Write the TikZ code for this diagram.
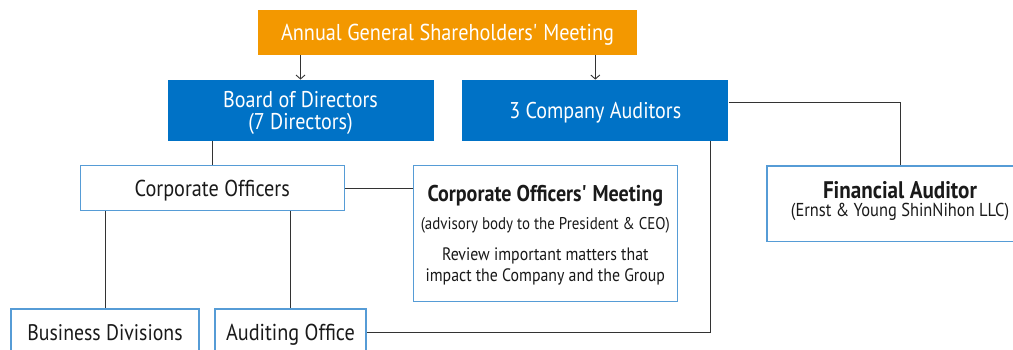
\documentclass[tikz,border=0pt]{standalone}
\usepackage{fontspec}
\setmainfont[FakeStretch=0.88]{PT Sans}
\usepackage{tikz}
\usetikzlibrary{positioning,arrows.meta}
\usepackage{xcolor}

\definecolor{agmorange}{RGB}{243,152,0}
\definecolor{orgblue}{RGB}{0,114,198}
\definecolor{edgeblue}{RGB}{86,156,214}
\definecolor{linegray}{RGB}{51,51,51}
\definecolor{inkgray}{RGB}{26,26,26}

\begin{document}
\begin{tikzpicture}[
  x=1pt, y=-1pt,
  every node/.style={font=\fontsize{23}{26}\selectfont},
  oneline/.style={text height=18pt, text depth=2pt},
  bluebox/.style={fill=orgblue, text=white, inner sep=0pt, minimum width=266pt, minimum height=61pt, align=center},
  agm/.style={fill=agmorange, text=white, inner sep=0pt, minimum width=379pt, minimum height=45pt, oneline},
  plain/.style={draw=edgeblue, line width=1.1pt, fill=white, text=inkgray, inner sep=0pt, align=center},
  link/.style={draw=linegray, line width=0.9pt},
]
\useasboundingbox (0,0) rectangle (1013,349);

% ── top level ──
\node[agm] (meet) at (447.5,32.5) {Annual General Shareholders\textquotesingle{} Meeting};

\node[bluebox, font=\fontsize{22.8}{21.7}\selectfont] (bod) at (300.5,110.3) {\rule{0pt}{22pt}Board of Directors\\(7 Directors)};
\node[bluebox, oneline, font=\fontsize{22.8}{26}\selectfont] (aud) at (595.3,110.3) {3 Company Auditors};

\draw[link, -{Straight Barb[length=4pt, width=9pt]}] (meet.south -| bod.north) -- (bod.north);
\draw[link, -{Straight Barb[length=4pt, width=9pt]}] (meet.south -| aud.north) -- (aud.north);

% ── executive side ──
\node[plain, oneline, minimum width=264pt, minimum height=45.4pt] (off) at (212.3,188) {Corporate Officers};

\node[plain, font=\fontsize{18}{21}\selectfont, minimum width=264pt, minimum height=135.6pt] (com) at (545.3,233.5)
  {\rule{0pt}{19pt}{\bfseries\fontsize{22.8}{21}\selectfont Corporate Officers\textquotesingle{} Meeting}\\[7pt]
   {\fontsize{17}{21}\selectfont (advisory body to the President \& CEO)}\\[10pt]
   Review important matters that\\
   impact the Company and the Group};

\node[plain, oneline, minimum width=188pt, minimum height=46pt, font=\fontsize{22.5}{26}\selectfont] (biz) at (105,332) {Business Divisions};
\node[plain, oneline, minimum width=151pt, minimum height=46pt] (aof) at (290.5,332) {Auditing Office};

\draw[link] ([xshift=-88pt]bod.south) -- ([xshift=-88pt]bod.south |- off.north);
\draw[link] (off.east) -- (com.west |- off.east);
\draw[link] (biz.north |- off.south) -- (biz.north);
\draw[link] (aof.north |- off.south) -- (aof.north);

% ── outside auditor ──
\node[plain, font=\fontsize{18.7}{20}\selectfont, minimum width=266pt, minimum height=75.7pt] (fin) at (900,203.8)
  {{\bfseries\fontsize{24}{20}\selectfont Financial Auditor}\\[-2pt]
   (Ernst \& Young ShinNihon LLC)\rule[-10pt]{0pt}{1pt}};

\draw[link] ([yshift=7.6pt]aud.east) -| (fin.north);
\draw[link] ([xshift=114.7pt]aud.south) |- (aof.east);

\end{tikzpicture}
\end{document}
